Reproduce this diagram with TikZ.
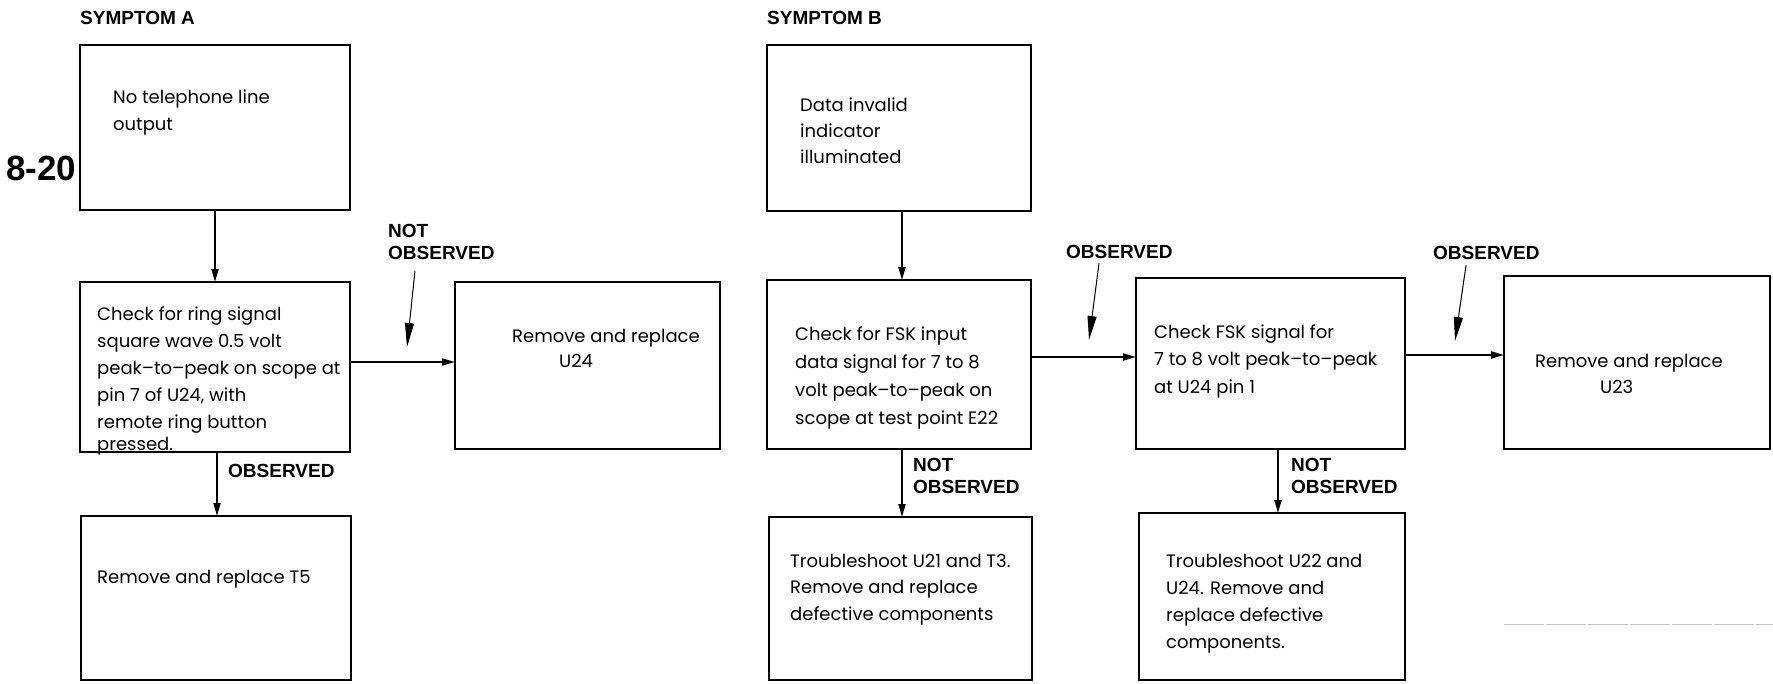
\documentclass[tikz,border=0pt]{standalone}
\usepackage{fontspec}
\usetikzlibrary{arrows.meta,calc}
\newfontfamily\bodyfam{Poppins}
\newfontfamily\headfam{Liberation Sans}
% left-aligned lines whose baseline is that of the first line
\newcommand\txtlines[1]{\begin{tabular}[t]{@{}l@{}}#1\end{tabular}}

\begin{document}
\begin{tikzpicture}[x=1pt,y=-1pt,
  box/.style={draw, line width=2.9pt, anchor=north west, inner sep=0pt, outer sep=0pt},
  conn/.style={line width=1.9pt, -{Triangle[length=13pt,width=7pt]}},
  ptr/.style={line width=1pt, -{Triangle[length=24pt,width=9pt]}},
  lbl/.style={font=\headfam\bfseries\fontsize{19}{22}\selectfont, inner sep=0pt, anchor=base west},
  txt/.style={font=\bodyfam\fontsize{18}{26}\selectfont, inner sep=0pt, anchor=base west},
]
% page frame
\fill[white] (0,0) rectangle (1773,683);
\useasboundingbox (0,0) rectangle (1773,683);

% ---- boxes ----
\node[box, minimum width=270pt, minimum height=165pt] (A1) at (80,45) {};
\node[box, minimum width=270pt, minimum height=170pt] (A2) at (80,282) {};
\node[box, minimum width=265pt, minimum height=167pt] (A3) at (455,282) {};
\node[box, minimum width=270pt, minimum height=164pt] (A4) at (81,516) {};
\node[box, minimum width=264pt, minimum height=166pt] (B1) at (767,45) {};
\node[box, minimum width=264pt, minimum height=169pt] (B2) at (767,280) {};
\node[box, minimum width=269pt, minimum height=171pt] (B3) at (1136,278) {};
\node[box, minimum width=266pt, minimum height=173pt] (B4) at (1504,276) {};
\node[box, minimum width=263pt, minimum height=163pt] (B5) at (769,517) {};
\node[box, minimum width=266pt, minimum height=167pt] (B6) at (1139,513) {};

% ---- box texts ----
\node[txt, font=\bodyfam\fontsize{18}{27}\selectfont] (tA1) at (113,103) {\txtlines{No telephone line\\output}};
\node[txt, font=\bodyfam\fontsize{18}{27}\selectfont] (tA2) at (97,320) {\txtlines{Check for ring signal\\square wave 0.5 volt\\peak–to–peak on scope at\\pin 7 of U24, with\\remote ring button\\[-4.5pt]pressed.}};
\node[txt, font=\bodyfam\fontsize{18}{25}\selectfont] (tA3) at (512,342) {\txtlines{Remove and replace\\\hspace*{47pt}U24}};
\node[txt] (tA4) at (97,583) {Remove and replace T5};
\node[txt, font=\bodyfam\fontsize{18}{26}\selectfont] (tB1) at (800,111) {\txtlines{Data invalid\\indicator\\illuminated}};
\node[txt, font=\bodyfam\fontsize{18}{28}\selectfont] (tB2) at (795,340) {\txtlines{Check for FSK input\\data signal for 7 to 8\\volt peak–to–peak on\\scope at test point E22}};
\node[txt, font=\bodyfam\fontsize{18}{27.5}\selectfont] (tB3) at (1154,338) {\txtlines{Check FSK signal for\\7 to 8 volt peak–to–peak\\at U24 pin 1}};
\node[txt] (tB4) at (1535,367) {\txtlines{Remove and replace\\\hspace*{65pt}U23}};
\node[txt, font=\bodyfam\fontsize{18}{26.5}\selectfont] (tB5) at (790,567) {\txtlines{Troubleshoot U21 and T3.\\Remove and replace\\defective components}};
\node[txt, font=\bodyfam\fontsize{18}{27}\selectfont] (tB6) at (1166,567) {\txtlines{Troubleshoot U22 and\\U24. Remove and\\replace defective\\components.}};

% ---- headings and labels ----
\node[lbl] (symA) at (80,24) {SYMPTOM A};
\node[lbl] (symB) at (767,24) {SYMPTOM B};
\node[lbl, font=\headfam\bfseries\fontsize{35}{40}\selectfont] (fig) at (6,180) {8-20};
\node[lbl] (noA) at (388,237) {\txtlines{NOT\\OBSERVED}};
\node[lbl] (obA) at (228,477) {OBSERVED};
\node[lbl] (obB1) at (1066,258) {OBSERVED};
\node[lbl] (obB2) at (1433,259) {OBSERVED};
\node[lbl] (noB1) at (913,471) {\txtlines{NOT\\OBSERVED}};
\node[lbl] (noB2) at (1291,471) {\txtlines{NOT\\OBSERVED}};

% ---- connectors ----
\draw[conn] (A1.south) -- (A2.north);
\draw[conn] ([yshift=5pt]A2.east) -- ([yshift=5pt]A2.east -| A3.west);
\draw[conn] ([xshift=2pt]A2.south) -- ([xshift=2pt]A2.south |- A4.north);
\draw[conn] ([xshift=3pt]B1.south) -- ([xshift=3pt]B1.south |- B2.north);
\draw[conn] ([yshift=7.5pt]B2.east) -- ([yshift=7.5pt]B2.east -| B3.west);
\draw[conn] ([yshift=8.5pt]B3.east) -- ([yshift=8.5pt]B3.east -| B4.west);
\draw[conn] ([xshift=3pt]B2.south) -- ([xshift=3pt]B2.south |- B5.north);
\draw[conn] ([xshift=7.5pt]B3.south) -- ([xshift=7.5pt]B3.south |- B6.north);

% ---- label pointers ----
\coordinate (pA) at (407,347);
\coordinate (pB1) at (1089,340);
\coordinate (pB2) at (1455,341);
\draw[ptr] ($(noA.south west)+(27,5)$) -- (pA);
\draw[ptr] ($(obB1.south west)+(33,5)$) -- (pB1);
\draw[ptr] ($(obB2.south west)+(33,6)$) -- (pB2);

% faint rule at lower right
\draw[gray!45, line width=0.8pt, dash pattern=on 40pt off 2pt] (1504,624) -- (1773,624);
\end{tikzpicture}
\end{document}
